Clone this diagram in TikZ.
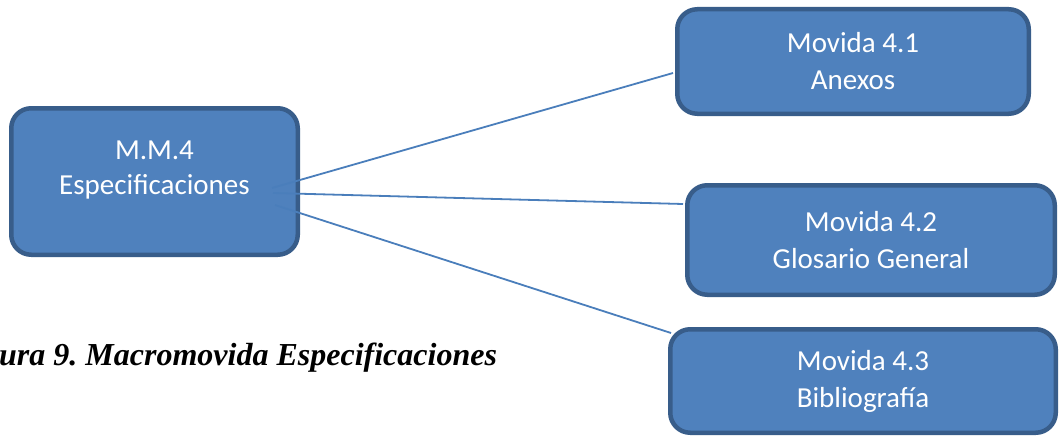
\documentclass[tikz,border=0pt]{standalone}
\usepackage{fontspec}
\setmainfont{Carlito}
\newfontfamily\captionfont{Liberation Serif}
\definecolor{boxfill}{HTML}{4F81BD}
\definecolor{boxedge}{HTML}{385D8A}
\definecolor{linkcol}{HTML}{4A7EBB}
\tikzset{
  movebox/.style={draw=boxedge, fill=boxfill, line width=4.5pt, rounded corners=20pt,
    inner sep=0pt, align=center, text=white, font=\fontsize{29}{37}\selectfont},
  boxtext/.style={inner sep=0pt, align=center, text=white, font=\fontsize{29}{35.5}\selectfont},
  link/.style={draw=linkcol, line width=1.8pt},
  captiontext/.style={inner sep=0pt, anchor=base west, font=\frenchspacing\captionfont\bfseries\itshape\fontsize{32}{36}\selectfont}
}
\begin{document}
\begin{tikzpicture}[x=1pt,y=-1pt]
  \useasboundingbox (0,0) rectangle (1059,436);

  % main move box
  \node[movebox, minimum width=286.5pt, minimum height=146.5pt] (mm) at (154.5,181.5) {};
  \node[boxtext] (mmtext) at (154.5,170) {M.M.4\\Especificaciones};

  % connector start points inside the main box
  \coordinate (s1) at (272,188);
  \coordinate (s2) at (273,193);
  \coordinate (s3) at (275,205);

  % sub-move boxes
  \node[movebox, minimum width=351.5pt, minimum height=104.5pt] (m1) at (853,61.5) {Movida 4.1\\Anexos};
  \node[movebox, minimum width=367.5pt, minimum height=109.5pt] (m2) at (871,240) {Movida 4.2\\Glosario General};
  \node[movebox, minimum width=385.5pt, minimum height=103.5pt] (m3) at (863,381) {Movida 4.3\\Bibliografía};

  % connectors
  \draw[link] (s1) -- ([yshift=-11.5pt,xshift=-2pt]m1.west);
  \draw[link] (s2) -- ([yshift=36pt,xshift=-2pt]m2.west);
  \draw[link] (s3) -- ([yshift=48pt,xshift=3pt]m3.west);

  % caption
  \node[captiontext] (cap) at (-1,365) {ura 9. Macromovida Especificaciones};
\end{tikzpicture}
\end{document}
